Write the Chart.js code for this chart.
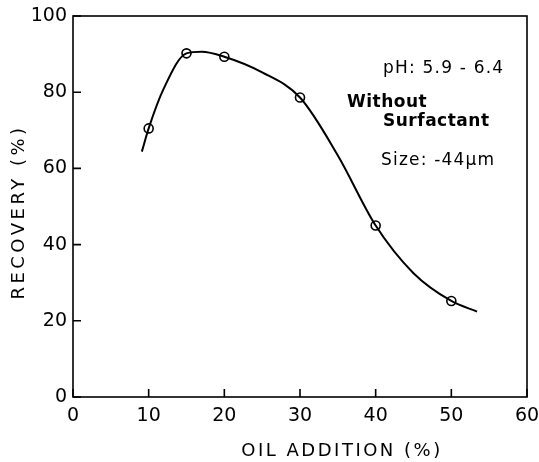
<!DOCTYPE html>
<html>
<head>
<meta charset="utf-8">
<script src="https://cdn.jsdelivr.net/npm/chart.js@4/dist/chart.umd.min.js"></script>
<style>
  body { margin: 0; background: #fff; }
  #wrap { width: 539px; height: 462px; }
</style>
</head>
<body>
<div id="wrap"><canvas id="recoveryChart" width="539" height="462"></canvas></div>
<script>
// measured points
const oilAddition = [10, 15, 20, 30, 40, 50];
const recovery = [70.5, 90.2, 89.3, 78.6, 45, 25.2];
// hand-drawn fitted curve
const curveX = [9.1, 10, 12, 15, 17, 20, 25, 30, 35, 40, 45, 50, 53.4];
const curveY = [64.4, 70.5, 81, 90.2, 90.6, 89.3, 85.2, 78.6, 63.4, 45, 32.5, 25.2, 22.4];
const xTicks = [0, 10, 20, 30, 40, 50, 60];
const yTicks = [0, 20, 40, 60, 80, 100];
const xTitle = 'OIL ADDITION (%)';
const yTitle = 'RECOVERY (%)';
const notes = [
    { text: 'pH: 5.9 - 6.4', x: 383, y: 69, bold: false },
    { text: 'Without', x: 347, y: 103, bold: true },
    { text: 'Surfactant', x: 383, y: 122, bold: true },
    { text: 'Size: -44\u03bcm', x: 381, y: 161, bold: false }
];

const FONT = 'DejaVu Sans';

// box frame, inward ticks, axis titles and text notes
const framePlugin = {
    id: 'frame',
    afterDatasetsDraw(chart) {
        const { ctx, chartArea: a, scales } = chart;
        ctx.save();
        ctx.strokeStyle = '#000';
        ctx.lineWidth = 1.6;
        ctx.strokeRect(a.left, a.top, a.right - a.left, a.bottom - a.top);
        ctx.beginPath();
        xTicks.forEach(v => {
            const px = scales.x.getPixelForValue(v);
            ctx.moveTo(px, a.bottom);
            ctx.lineTo(px, a.bottom - 8);
        });
        yTicks.forEach(v => {
            const py = scales.y.getPixelForValue(v);
            ctx.moveTo(a.left, py);
            ctx.lineTo(a.left + 8, py);
        });
        ctx.stroke();

        ctx.fillStyle = '#000';
        ctx.textBaseline = 'middle';
        notes.forEach(n => {
            ctx.font = (n.bold ? 'bold ' : '') + '17px ' + FONT;
            ctx.letterSpacing = n.bold ? '0.5px' : '1.2px';
            ctx.fillText(n.text, n.x, n.y);
        });

        // axis titles, letter-spaced like the original lettering
        ctx.font = '18px ' + FONT;
        ctx.letterSpacing = '2.5px';
        ctx.textAlign = 'center';
        ctx.fillText(xTitle, 342, 451);
        ctx.translate(19, 212);
        ctx.rotate(-Math.PI / 2);
        ctx.letterSpacing = '3.5px';
        ctx.fillText(yTitle, 0, 0);
        ctx.restore();
    }
};

const ctx = document.getElementById('recoveryChart').getContext('2d');
new Chart(ctx, {
    type: 'scatter',
    data: {
        datasets: [{
            label: 'curve',
            data: curveX.map((x, i) => ({ x: x, y: curveY[i] })),
            showLine: true,
            borderColor: '#000',
            borderWidth: 2,
            cubicInterpolationMode: 'monotone',
            pointRadius: 0,
            fill: false
        }, {
            label: 'Recovery',
            data: oilAddition.map((x, i) => ({ x: x, y: recovery[i] })),
            pointRadius: 4.5,
            pointBackgroundColor: '#fff',
            pointBorderColor: '#000',
            pointBorderWidth: 1.6
        }]
    },
    options: {
        responsive: false,
        animation: false,
        layout: { padding: { top: 16, right: 12, left: 0, bottom: 0 } },
        scales: {
            x: {
                type: 'linear',
                min: 0,
                max: 60,
                afterFit: s => { s.height = 65; s.paddingLeft = 0; s.paddingRight = 0; },
                afterBuildTicks: s => { s.ticks = xTicks.map(v => ({ value: v })); },
                grid: { display: false, drawTicks: false },
                border: { display: false },
                ticks: { color: '#000', padding: 8, font: { family: FONT, size: 19 } }
            },
            y: {
                min: 0,
                max: 100,
                afterFit: s => { s.width = 73; s.paddingTop = 0; s.paddingBottom = 0; },
                afterBuildTicks: s => { s.ticks = yTicks.map(v => ({ value: v })); },
                grid: { display: false, drawTicks: false },
                border: { display: false },
                ticks: { color: '#000', padding: 6, font: { family: FONT, size: 19 } }
            }
        },
        plugins: {
            legend: { display: false },
            tooltip: { enabled: false }
        }
    },
    plugins: [framePlugin]
});
</script>
</body>
</html>
